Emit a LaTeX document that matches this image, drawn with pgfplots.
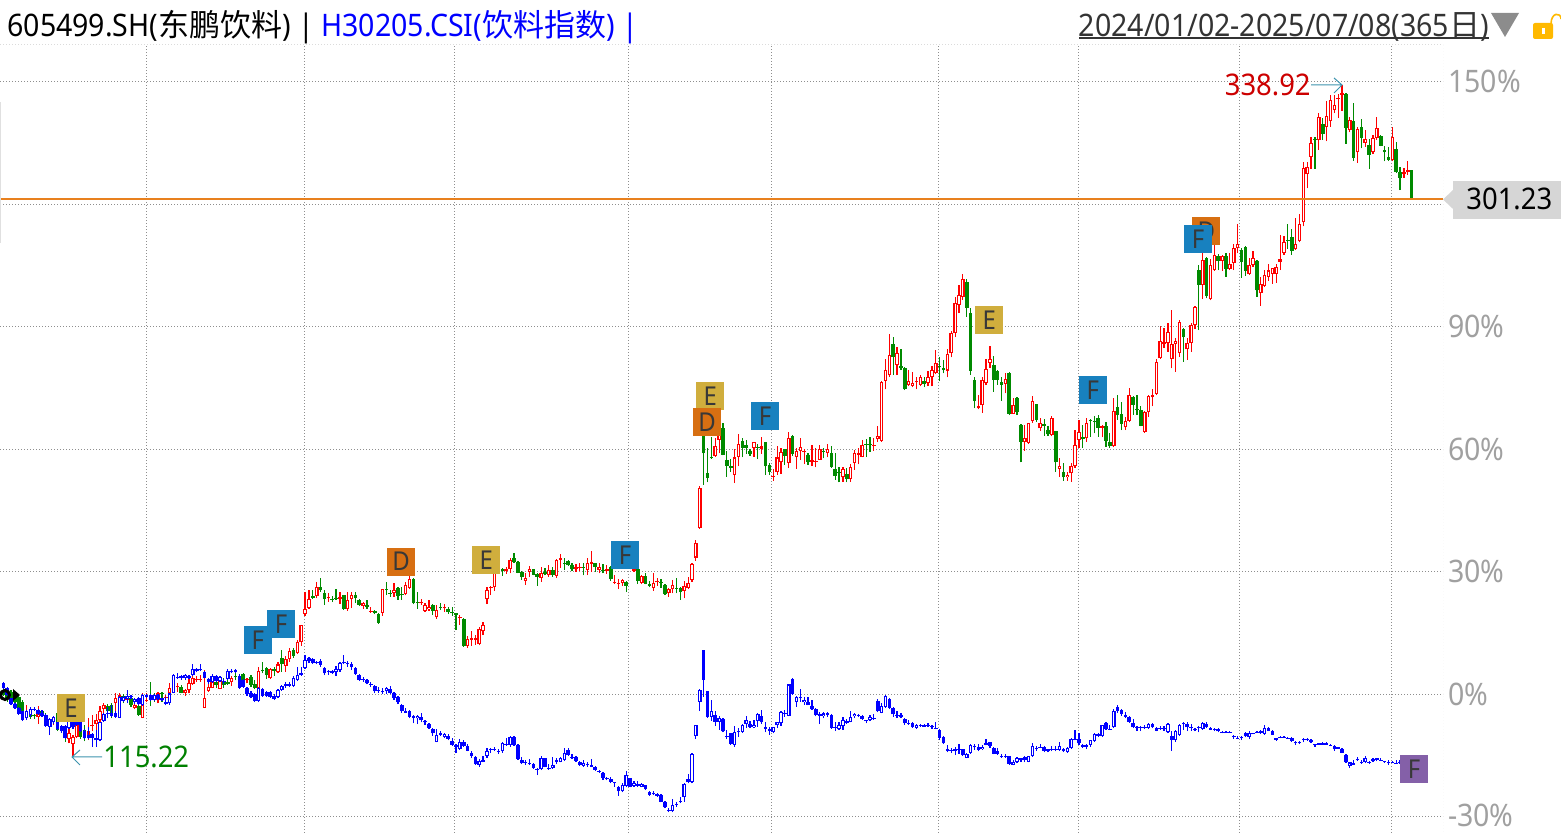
\documentclass[border=0pt]{standalone}
\usepackage{fontspec}
\usepackage{pgfplots}
\usepackage{pgfplotstable}
\pgfplotsset{compat=1.18}
\setmainfont{Noto Sans}[FakeStretch=0.92]
\newfontfamily\cjk{Noto Sans CJK SC}[FakeStretch=1.0]
\newcommand\zh[1]{{\cjk #1}}
\newcommand\bigtext{\fontsize{15.5pt}{18pt}\selectfont}
\newcommand\numtext{\fontsize{14.9pt}{18pt}\selectfont}
\definecolor{up}{HTML}{FF0000}
\definecolor{down}{HTML}{008A00}
\definecolor{idx}{HTML}{0000FF}
\definecolor{gridc}{HTML}{8E8E8E}
\definecolor{tickc}{HTML}{A0A0A0}
\definecolor{lastc}{HTML}{E8801E}
\definecolor{arrowc}{HTML}{3D93AD}
\definecolor{bE}{HTML}{D0AE3D}
\definecolor{bD}{HTML}{D76F12}
\definecolor{bF}{HTML}{1881BF}
\definecolor{bP}{HTML}{8460A8}

% columns: open close high low, in % against the first day
\pgfplotstableread{
o c h l
1.0 -0.2 1.5 -0.5
1.1 -1.0 1.5 -1.8
0.6 -1.2 1.0 -1.6
0.2 -1.8 0.6 -2.2
-0.7 -3.4 -0.2 -3.8
-2.0 -5.9 -1.5 -6.5
-5.5 -4.0 -2.6 -6.3
-3.8 -5.5 -3.0 -6.0
-5.1 -5.4 -4.8 -6.0
-5.6 -3.8 -2.9 -7.3
-4.2 -4.5 -3.8 -5.6
-5.0 -6.0 -4.5 -6.6
-7.9 -6.3 -5.8 -10.0
-6.8 -6.5 -5.8 -7.6
-4.7 -8.7 -4.2 -9.0
-8.6 -8.3 -7.5 -9.4
-7.9 -10.4 -7.5 -11.6
-10.9 -9.4 -7.8 -12.0
-12.2 -10.5 -10.0 -15.3
-10.4 -6.7 -6.3 -10.8
-8.7 -10.5 -6.8 -10.9
-8.7 -10.8 -7.5 -11.5
-10.5 -8.9 -5.9 -11.2
-7.8 -7.5 -5.1 -9.1
-7.3 -6.3 -4.8 -9.5
-6.3 -4.2 -2.8 -9.5
-3.6 -2.6 -2.2 -4.8
-2.8 -4.2 -2.4 -5.3
-2.6 -4.7 -2.2 -5.9
-2.2 -0.8 0.2 -4.8
-1.0 -0.2 0.4 -2.0
-0.4 -1.6 0.0 -2.2
-1.4 -0.4 0.4 -2.0
-1.0 -2.6 -0.2 -3.0
-3.3 -2.6 -1.8 -3.7
-2.8 -5.1 -0.6 -5.3
-5.7 -2.6 0.2 -5.9
-1.6 -1.3 0.2 -2.0
-0.2 -1.4 2.9 -2.9
-0.2 -1.4 0.2 -1.8
-1.4 0.2 0.6 -2.2
0.3 0.0 0.6 -1.8
-1.0 -0.7 -0.2 -2.2
0.2 1.5 2.7 -2.2
1.9 0.9 2.3 0.6
1.8 2.1 2.7 0.6
1.9 0.4 2.3 0.2
0.2 1.1 1.3 -0.3
1.1 2.7 3.9 0.2
2.4 4.1 5.1 2.3
3.4 3.7 4.6 3.1
3.4 3.7 4.7 3.1
-3.3 -1.0 6.0 -3.4
0.8 1.9 2.7 0.6
1.6 3.1 4.7 1.5
3.1 2.3 4.2 1.5
1.4 3.3 3.9 1.2
3.1 2.3 3.9 1.5
2.9 2.6 3.7 2.3
2.9 4.1 4.5 2.0
4.5 4.2 5.2 3.4
4.5 3.3 5.0 2.9
4.9 3.1 5.3 2.9
3.4 3.7 4.1 2.7
4.3 2.3 4.7 1.9
2.5 1.5 3.5 1.2
1.5 5.8 6.8 -0.7
5.9 5.6 7.8 5.1
6.4 4.7 6.8 3.7
3.9 6.1 6.4 3.7
6.1 5.8 6.8 4.5
5.4 7.3 8.0 5.1
8.8 7.3 10.9 5.5
7.0 8.6 9.4 5.5
8.6 10.7 11.3 8.0
10.9 9.5 11.3 9.0
10.0 12.9 13.3 9.9
12.9 17.0 17.0 11.9
19.7 20.9 25.1 19.2
21.1 23.3 25.6 20.9
24.0 23.7 25.6 23.4
24.1 26.2 27.6 23.5
26.3 25.6 28.5 25.1
24.9 23.3 25.6 21.9
23.5 23.8 24.7 22.7
23.4 23.1 24.0 22.6
23.6 23.3 25.7 23.1
23.4 23.8 25.1 22.1
24.2 20.9 24.4 20.7
20.9 23.0 25.0 20.5
23.3 24.3 25.0 21.1
24.3 23.5 25.1 22.3
23.1 21.9 23.3 21.7
21.7 22.3 22.7 20.9
21.9 21.4 23.0 20.9
20.2 20.5 21.5 20.0
20.4 19.8 20.6 19.6
19.7 17.5 19.9 17.3
20.0 25.7 25.9 19.2
25.8 25.5 27.4 24.3
24.9 24.6 25.6 23.9
24.9 25.5 27.2 23.9
26.0 24.1 26.2 23.1
24.5 24.2 26.4 23.1
24.5 26.7 27.6 24.2
26.1 28.2 29.6 25.7
28.2 22.3 28.4 22.0
22.6 22.3 25.1 20.9
22.3 22.6 23.3 21.9
20.4 21.9 22.3 20.2
20.8 21.5 23.0 20.5
21.9 20.4 22.1 19.4
18.9 20.7 21.9 18.5
21.5 21.2 22.3 20.7
21.2 21.5 22.1 20.2
20.9 20.2 21.5 19.7
20.1 19.8 21.3 19.2
19.8 19.5 20.0 15.8
18.7 19.0 19.4 17.0
18.5 11.8 18.7 11.7
11.9 13.5 14.4 11.4
13.4 13.7 15.4 11.9
13.4 13.7 14.5 12.1
12.3 15.9 16.4 12.0
15.4 17.0 17.6 14.5
23.3 25.5 26.2 22.1
26.0 26.3 26.5 24.3
26.2 29.6 30.0 25.4
30.9 30.0 31.2 29.6
30.7 30.3 30.9 29.0
30.3 30.6 31.3 29.5
30.8 32.9 33.5 29.6
33.5 32.4 34.5 32.1
32.4 29.8 32.7 29.6
30.0 28.7 30.2 28.0
27.7 28.5 29.6 26.8
30.0 30.6 31.4 28.8
30.6 29.3 30.8 29.1
29.4 28.8 29.6 26.6
28.6 29.7 31.3 27.6
30.0 29.5 30.9 29.1
29.1 30.4 31.7 28.8
30.4 29.3 31.3 28.8
29.0 32.9 33.1 28.6
33.0 33.3 34.3 30.9
32.2 31.9 33.3 30.4
32.6 31.7 32.8 31.5
31.7 30.6 32.1 30.1
30.8 31.1 31.9 30.0
31.0 31.3 32.1 30.3
31.3 31.0 32.1 29.1
30.4 32.1 33.5 29.2
32.0 32.3 35.1 30.0
32.1 31.3 32.2 30.0
30.5 31.2 32.1 29.6
30.4 30.1 31.9 29.6
30.1 30.6 31.7 29.5
31.3 28.2 31.5 27.7
27.3 27.6 29.2 27.0
27.0 27.3 28.2 25.8
27.2 28.0 28.2 26.5
27.6 26.6 27.8 25.1
30.8 32.1 32.5 30.6
30.3 30.6 31.0 30.0
30.7 27.8 30.9 27.0
27.3 29.0 29.2 27.0
29.0 27.1 29.8 26.9
26.9 26.6 27.8 26.2
26.1 27.3 29.6 25.3
27.4 27.7 28.4 26.6
27.5 27.2 28.2 26.1
26.8 24.6 27.0 24.3
24.9 25.8 26.1 23.9
25.7 26.8 28.0 24.7
26.1 25.8 28.6 24.7
26.1 25.1 26.3 23.1
25.4 26.5 27.8 23.5
26.1 27.3 28.8 25.7
28.0 31.9 32.1 27.6
33.5 37.0 37.8 32.7
40.8 50.5 50.9 40.5
63.9 59.0 64.2 51.3
54.1 53.0 60.3 51.9
58.1 57.8 63.1 57.6
58.4 60.7 62.7 58.2
62.3 63.4 65.6 59.0
65.2 58.7 66.4 58.5
57.3 56.0 59.6 53.3
55.8 55.5 57.6 54.5
53.8 58.0 60.0 51.7
58.2 61.2 63.8 55.8
62.0 60.4 62.7 58.0
61.1 60.4 62.3 58.9
59.5 58.9 60.0 58.4
60.4 61.7 61.9 58.2
60.6 60.3 61.3 57.6
60.2 60.7 63.1 58.9
61.7 55.8 61.9 53.7
56.2 54.5 56.6 53.7
53.1 53.4 55.2 52.3
54.5 58.0 60.8 53.7
56.8 59.3 60.3 54.0
60.0 58.4 60.2 56.2
56.7 62.7 64.3 55.4
63.3 58.9 63.5 58.4
58.2 59.5 60.3 55.2
59.7 60.5 62.7 57.4
59.3 59.6 60.0 56.4
58.6 56.9 59.0 56.2
57.0 57.3 61.1 55.9
56.9 57.2 60.4 55.6
57.5 60.0 61.0 57.4
59.6 59.3 60.3 57.8
59.2 60.0 61.3 58.0
59.0 55.7 60.8 55.5
55.1 53.5 59.0 52.5
54.4 54.1 55.6 51.9
53.1 55.1 55.6 52.1
54.0 52.8 55.4 51.9
52.8 55.6 56.3 52.0
56.7 59.0 59.8 55.0
58.7 59.2 60.3 56.3
58.2 61.0 62.3 58.0
61.3 61.0 62.5 58.1
61.3 61.0 63.0 59.4
60.8 61.1 62.7 59.6
62.5 63.2 65.7 61.8
62.1 76.6 76.8 61.9
76.8 79.4 82.0 74.7
78.1 83.0 88.3 77.8
85.8 82.6 87.6 78.2
80.7 83.5 85.0 78.2
80.3 80.0 84.6 79.4
79.9 74.7 80.1 74.5
75.8 76.7 79.4 75.5
75.6 76.2 79.0 75.2
76.4 76.7 77.6 74.7
75.8 77.6 78.2 75.4
76.7 76.0 77.6 75.2
76.3 77.6 79.3 75.4
77.6 79.4 80.3 75.4
78.6 81.1 84.3 78.5
80.5 80.2 82.5 76.7
79.9 79.4 81.9 78.6
79.3 83.3 84.6 77.6
83.7 88.4 88.9 82.5
88.6 95.8 97.2 87.4
95.4 97.7 100.2 93.3
97.4 101.6 102.9 96.6
100.9 94.7 101.6 92.5
93.3 79.3 94.5 78.3
77.0 71.9 77.6 70.0
70.0 70.5 73.3 69.8
70.8 76.9 77.8 69.0
76.3 79.6 82.1 75.7
81.2 82.1 85.3 80.0
80.7 77.1 82.9 74.1
79.2 77.0 79.4 75.8
76.6 75.8 77.8 71.9
76.1 77.2 78.6 73.7
78.7 68.7 78.9 68.4
68.7 70.8 72.5 68.7
72.5 69.2 72.7 68.4
65.9 61.9 66.1 56.8
61.9 62.7 66.0 59.7
61.5 66.4 66.5 61.3
66.9 71.8 73.1 66.5
71.0 67.2 71.2 66.8
65.1 66.4 67.6 64.6
66.2 65.6 67.4 63.3
64.8 63.7 65.6 63.3
63.4 67.6 68.2 63.2
64.4 56.8 64.6 54.5
55.3 55.9 57.8 53.3
54.4 53.1 56.6 52.3
53.1 53.7 54.4 52.3
54.1 55.9 56.6 52.1
55.8 61.0 64.7 55.5
62.4 64.2 67.2 60.3
62.9 62.6 66.0 60.4
62.7 66.4 67.6 61.8
67.2 66.9 67.4 63.1
67.0 66.7 68.2 63.9
67.6 65.3 68.4 63.1
65.3 65.6 66.0 62.9
65.7 62.1 66.8 60.6
61.8 60.7 63.9 60.4
60.7 69.3 72.5 60.5
70.4 68.4 73.3 67.2
68.7 66.3 71.7 64.7
65.4 66.9 68.0 64.7
67.0 73.2 74.9 66.8
72.7 70.9 73.1 68.5
69.9 69.6 73.2 68.4
69.6 65.7 70.5 65.6
64.2 69.2 69.3 64.0
69.2 73.0 73.3 68.0
72.7 73.2 74.7 70.5
73.6 81.3 82.1 73.3
82.3 86.5 90.2 82.2
85.9 86.2 89.6 84.9
86.1 88.7 90.9 83.9
82.2 85.8 94.1 79.8
85.9 86.5 87.2 79.0
83.7 91.1 91.7 82.7
89.4 87.4 89.6 81.5
84.5 86.0 87.2 81.9
86.0 90.4 90.9 83.9
90.4 94.8 95.1 89.5
103.9 100.3 105.1 89.2
100.3 106.4 108.4 96.8
106.8 97.5 107.0 97.0
96.7 105.1 106.5 96.5
103.9 107.5 110.4 103.7
107.3 106.1 107.8 103.9
106.2 107.3 107.6 103.7
107.3 104.2 108.0 102.3
104.2 105.5 108.0 103.9
105.7 109.2 110.4 103.9
109.3 110.2 115.3 108.0
108.8 106.0 109.2 102.0
109.5 103.7 109.7 102.5
102.9 105.1 106.8 102.7
105.2 106.8 108.5 104.6
106.1 98.9 106.3 97.4
98.2 100.6 102.3 95.2
100.0 102.7 103.9 99.7
102.3 103.8 105.4 101.3
103.0 104.3 104.5 100.6
102.9 104.6 105.5 100.8
106.0 106.5 112.5 103.9
108.2 110.7 112.2 107.7
111.3 111.0 115.2 109.1
111.9 108.6 113.9 107.7
109.0 110.2 116.6 108.8
111.1 115.3 117.6 110.7
115.6 128.8 130.3 114.6
127.4 129.2 130.3 123.9
131.7 135.1 136.4 128.7
136.1 135.8 136.6 128.7
135.7 141.3 142.3 133.3
139.6 137.2 141.1 135.8
139.0 141.6 145.2 135.4
140.3 145.6 146.8 139.0
143.1 144.3 146.8 142.3
145.7 146.0 147.0 141.1
146.9 147.2 149.2 142.9
147.0 138.8 147.2 134.8
138.3 140.6 141.3 137.6
140.4 131.4 144.8 130.7
132.7 138.4 139.0 130.2
138.9 136.2 140.8 133.7
135.1 136.0 138.2 134.1
134.6 132.2 135.9 128.7
132.7 136.2 137.0 132.3
136.3 138.6 141.3 135.8
136.7 134.4 136.9 134.2
133.3 132.7 134.3 130.5
131.6 130.9 134.1 130.6
130.9 136.4 139.0 130.6
133.6 127.9 135.2 127.7
127.9 126.5 129.2 123.5
127.4 127.9 128.8 126.5
127.8 128.4 130.6 127.2
128.4 121.3 128.5 121.2
}\stock

\pgfplotstableread{
o c h l
2.7 1.5 3.0 1.3
1.5 -0.2 1.7 -0.4
-1.0 -2.4 -0.8 -2.6
-2.4 -3.4 -2.2 -3.6
-3.4 -4.8 -3.2 -5.0
-4.2 -6.3 -4.0 -6.6
-5.9 -4.2 -3.8 -6.2
-5.1 -3.7 -3.0 -5.5
-3.5 -3.8 -3.2 -4.2
-3.8 -4.8 -3.6 -5.0
-4.5 -5.3 -3.8 -5.5
-5.1 -7.8 -4.9 -8.0
-7.9 -6.0 -5.8 -10.0
-6.9 -5.6 -5.2 -7.2
-6.7 -8.6 -6.4 -8.8
-7.8 -9.1 -7.5 -9.5
-7.8 -10.8 -7.5 -11.0
-8.2 -6.3 -6.0 -8.5
-6.7 -8.1 -6.4 -8.4
-6.3 -7.5 -6.0 -7.8
-6.7 -8.9 -6.4 -9.2
-8.9 -10.8 -8.6 -11.0
-10.0 -10.8 -8.1 -11.0
-9.7 -10.6 -9.4 -12.8
-11.3 -10.8 -8.7 -12.8
-11.2 -6.9 -6.7 -11.5
-6.5 -4.8 -4.6 -6.8
-4.5 -4.8 -3.0 -5.9
-4.7 -5.3 -2.6 -5.6
-4.5 -5.5 -4.2 -5.8
-5.7 -0.6 -0.4 -5.9
-1.6 -0.6 -0.3 -2.0
-1.1 -0.3 1.1 -2.2
-0.4 -0.7 -0.2 -1.2
-2.0 -1.2 -0.9 -2.3
-1.0 -2.4 -0.7 -2.7
-2.6 -0.2 0.0 -2.9
-0.2 -0.7 0.1 -0.9
-0.2 -1.4 0.1 -1.7
-1.4 -0.2 0.1 -1.7
-0.2 -1.2 0.1 -1.5
-1.0 -1.4 -0.8 -1.7
-1.9 -2.4 -0.6 -2.7
-2.2 0.2 0.4 -2.5
0.4 4.7 5.0 0.2
4.2 3.9 5.1 3.7
4.5 3.9 4.7 3.6
3.9 4.7 5.0 3.6
4.4 4.1 4.8 3.8
4.7 6.2 7.3 4.5
6.1 5.8 6.4 5.4
6.3 6.0 7.3 5.7
5.5 4.1 5.8 3.9
3.7 2.9 4.0 2.6
3.1 4.6 4.9 2.8
4.5 3.3 4.8 3.0
3.3 4.3 4.6 3.0
3.2 2.9 3.7 2.5
3.8 5.8 6.2 3.5
5.8 5.4 6.1 5.1
6.0 5.5 6.3 5.2
4.6 1.6 4.9 1.4
3.5 1.9 3.8 1.6
1.5 0.0 1.8 -0.3
0.4 -0.7 0.7 -1.0
0.1 -1.6 0.3 -1.9
-1.6 1.6 1.9 -1.9
1.2 -0.3 1.5 -0.6
0.6 -0.3 0.9 -0.6
0.6 -0.6 0.9 -0.9
-0.3 -1.1 0.0 -1.4
-0.7 1.1 1.4 -1.0
1.1 2.0 2.3 0.9
2.4 2.1 3.0 1.6
2.4 2.1 3.0 1.7
2.1 4.1 4.4 1.8
3.5 4.7 6.8 3.2
5.1 4.8 6.6 4.6
6.5 8.4 9.7 6.3
8.8 8.2 9.2 7.6
8.6 7.7 9.0 7.4
7.9 7.6 8.1 7.3
8.2 7.2 8.6 6.8
6.4 5.1 6.6 4.7
5.7 5.4 5.9 4.7
5.8 5.3 6.0 5.0
5.5 6.1 7.0 4.5
6.0 7.6 7.9 5.5
7.9 7.6 9.6 7.4
7.7 7.4 8.2 6.8
7.4 6.6 7.8 6.0
6.4 5.0 6.7 4.7
4.7 3.5 5.0 3.2
3.8 3.5 4.3 3.1
3.5 2.7 3.8 2.4
2.6 2.3 3.1 1.9
2.0 0.7 2.3 0.2
1.0 0.7 1.7 0.4
0.8 0.5 1.6 0.1
0.7 1.5 1.9 0.1
1.2 0.4 2.0 0.1
0.2 -0.8 0.5 -1.4
-0.6 -1.8 -0.3 -2.4
-2.7 -4.1 -2.4 -4.5
-4.2 -4.5 -3.4 -4.6
-4.2 -5.5 -3.9 -5.9
-5.7 -5.2 -5.0 -7.1
-5.9 -5.3 -5.1 -7.3
-5.6 -6.4 -4.7 -6.9
-6.6 -6.9 -6.3 -7.4
-7.3 -8.2 -7.0 -8.4
-8.5 -9.6 -8.2 -10.2
-11.6 -9.9 -8.6 -11.8
-9.6 -9.9 -8.9 -10.2
-10.5 -9.8 -9.5 -10.8
-10.1 -11.0 -9.8 -11.3
-11.5 -12.4 -10.8 -12.6
-12.5 -12.8 -12.2 -14.4
-13.4 -11.8 -11.0 -13.6
-11.7 -12.6 -11.3 -12.9
-12.7 -13.8 -12.2 -14.0
-14.4 -15.1 -13.8 -15.5
-15.4 -17.1 -15.1 -17.3
-17.2 -16.4 -15.9 -17.7
-16.2 -16.5 -15.0 -16.7
-15.0 -14.0 -13.2 -15.5
-13.3 -13.6 -13.1 -14.4
-13.3 -13.6 -13.0 -13.9
-13.8 -14.1 -13.5 -14.6
-14.0 -12.0 -11.8 -14.3
-12.1 -12.4 -10.8 -12.6
-12.4 -10.5 -10.3 -12.8
-10.5 -12.4 -10.3 -12.6
-12.4 -15.8 -12.2 -16.0
-16.2 -16.9 -15.4 -17.1
-16.6 -16.9 -16.1 -17.3
-16.8 -17.1 -15.9 -17.3
-17.1 -18.0 -16.9 -18.2
-18.2 -18.5 -18.0 -19.8
-18.4 -15.7 -15.1 -18.6
-15.7 -17.7 -15.5 -17.9
-18.0 -18.3 -17.1 -18.5
-18.0 -17.2 -15.4 -18.2
-16.2 -16.5 -15.7 -17.1
-16.5 -15.7 -15.3 -16.7
-16.1 -14.4 -13.2 -16.3
-13.6 -14.8 -13.2 -15.0
-15.3 -15.6 -14.7 -15.8
-15.4 -16.3 -15.2 -16.5
-16.5 -17.3 -16.3 -17.5
-17.5 -16.9 -16.2 -17.7
-17.1 -17.4 -16.7 -17.7
-17.4 -17.7 -15.8 -17.9
-17.7 -18.5 -17.5 -18.7
-18.7 -19.0 -18.5 -19.2
-19.3 -20.5 -19.1 -21.0
-20.5 -20.8 -20.2 -21.1
-20.7 -21.5 -20.3 -21.8
-21.5 -21.8 -21.4 -22.6
-22.8 -23.8 -22.5 -24.8
-23.8 -22.3 -21.8 -24.0
-22.4 -19.7 -18.8 -22.8
-20.6 -22.6 -20.4 -22.8
-22.4 -21.8 -21.3 -22.6
-22.0 -22.4 -21.3 -22.6
-22.6 -22.0 -21.8 -22.8
-22.3 -23.3 -22.1 -23.5
-24.0 -24.6 -23.8 -24.9
-24.2 -24.5 -23.7 -24.7
-24.5 -24.8 -24.1 -25.1
-24.7 -26.3 -24.5 -26.5
-26.4 -27.7 -26.2 -27.9
-28.3 -28.6 -27.9 -28.9
-28.6 -27.0 -25.7 -28.9
-26.8 -27.1 -26.5 -27.5
-26.2 -26.5 -25.1 -26.7
-25.1 -22.0 -21.8 -26.3
-20.7 -21.6 -19.5 -21.8
-21.5 -14.5 -14.3 -21.8
-10.1 -7.6 -7.5 -10.9
-1.8 1.1 1.3 -4.1
10.8 3.6 10.9 -0.6
0.8 -5.5 0.9 -5.7
-5.5 -4.1 -1.4 -6.5
-5.1 -6.7 -4.1 -7.7
-6.7 -5.9 -5.3 -8.7
-6.1 -9.1 -5.9 -9.3
-10.2 -10.5 -8.7 -11.0
-9.6 -12.1 -9.4 -12.3
-12.4 -9.3 -7.8 -12.8
-9.0 -9.3 -8.3 -10.4
-9.2 -7.5 -7.3 -9.4
-7.3 -6.4 -5.3 -8.3
-7.3 -7.9 -6.5 -8.3
-8.1 -7.4 -6.3 -8.3
-6.5 -4.9 -4.7 -7.9
-5.4 -6.9 -3.8 -7.3
-8.0 -8.5 -6.9 -9.3
-8.6 -8.9 -7.9 -9.9
-9.3 -8.1 -7.9 -9.6
-7.6 -6.9 -6.7 -8.3
-7.1 -4.4 -4.2 -7.7
-4.5 -4.8 -3.8 -5.5
-5.2 2.4 2.6 -5.4
3.7 0.1 3.9 -0.1
-1.8 -0.7 -0.3 -3.1
-0.7 -1.0 1.3 -1.8
-2.0 -1.4 -0.6 -2.5
-1.9 -2.5 -0.6 -2.7
-2.9 -3.6 -1.4 -3.8
-3.6 -5.1 -3.4 -5.4
-4.9 -5.2 -4.3 -7.3
-5.4 -4.7 -4.3 -5.9
-4.7 -5.0 -4.4 -5.5
-5.0 -8.2 -4.8 -8.4
-8.0 -8.3 -6.9 -9.0
-8.5 -7.5 -6.9 -8.7
-7.7 -6.3 -5.6 -8.7
-6.5 -7.0 -6.0 -7.2
-6.7 -5.6 -4.1 -6.9
-5.4 -4.8 -4.5 -5.9
-5.0 -5.3 -4.9 -5.6
-5.3 -6.0 -5.1 -6.2
-6.3 -6.6 -6.2 -7.1
-6.4 -5.6 -5.1 -6.6
-5.8 -6.1 -4.9 -6.2
-1.6 -4.2 -1.1 -4.4
-4.5 -2.9 -2.2 -4.7
-3.1 -0.4 -0.2 -3.3
-1.2 -3.4 -1.0 -3.6
-3.4 -4.9 -3.1 -5.5
-5.0 -5.3 -4.1 -5.7
-5.0 -5.6 -4.5 -5.9
-6.1 -7.1 -5.9 -7.5
-7.0 -7.3 -6.3 -7.4
-7.0 -8.1 -6.8 -8.2
-8.2 -7.4 -7.2 -8.4
-7.4 -7.8 -7.2 -7.9
-7.6 -7.9 -7.2 -8.0
-7.5 -7.8 -7.0 -8.0
-7.8 -8.1 -7.4 -8.4
-8.2 -8.5 -6.8 -8.6
-8.7 -10.6 -8.5 -11.2
-10.5 -12.0 -10.3 -12.2
-13.5 -13.8 -12.4 -14.2
-13.6 -13.9 -13.2 -14.4
-13.5 -13.8 -13.0 -14.9
-13.4 -13.7 -12.2 -14.5
-13.5 -14.9 -13.3 -15.1
-15.5 -14.5 -14.3 -15.7
-14.3 -12.4 -12.2 -14.5
-12.7 -13.0 -12.2 -13.6
-12.9 -13.6 -12.1 -14.0
-13.5 -12.9 -12.4 -13.7
-11.9 -12.3 -11.0 -12.5
-11.8 -12.7 -11.6 -13.2
-13.2 -14.5 -13.0 -14.7
-14.0 -14.6 -13.2 -14.8
-15.0 -15.3 -14.7 -15.6
-15.0 -15.3 -14.7 -15.6
-15.2 -17.1 -15.0 -17.3
-17.2 -16.6 -16.1 -17.4
-16.6 -15.7 -15.3 -16.9
-15.7 -16.0 -15.5 -16.5
-15.4 -16.2 -15.2 -16.7
-16.5 -15.2 -15.0 -16.7
-15.0 -12.7 -12.0 -15.3
-13.1 -13.4 -12.7 -13.8
-12.8 -13.1 -12.2 -13.2
-12.8 -13.9 -12.6 -14.2
-13.5 -13.8 -13.3 -14.2
-13.3 -13.6 -12.7 -14.0
-13.3 -13.6 -12.6 -14.0
-13.6 -12.6 -11.8 -13.8
-13.3 -14.0 -13.1 -14.2
-14.1 -13.2 -13.0 -14.3
-13.1 -11.0 -10.8 -13.3
-10.9 -11.2 -8.7 -11.3
-11.0 -12.0 -9.5 -12.4
-12.5 -12.8 -12.2 -13.2
-12.5 -12.8 -12.2 -13.4
-12.4 -11.3 -11.1 -12.8
-11.4 -9.7 -9.5 -11.6
-9.8 -10.1 -9.6 -10.5
-10.3 -7.6 -7.4 -10.5
-7.1 -8.5 -6.7 -8.7
-8.4 -8.7 -7.4 -8.8
-8.1 -4.1 -3.6 -8.3
-3.2 -4.0 -2.6 -4.5
-3.9 -4.8 -3.7 -5.3
-5.1 -5.5 -4.4 -5.9
-5.6 -6.8 -5.4 -7.0
-7.0 -8.1 -6.0 -8.3
-8.0 -8.3 -7.7 -9.0
-7.9 -8.2 -7.7 -9.0
-8.0 -8.3 -7.5 -8.5
-8.2 -7.3 -7.1 -8.4
-7.3 -8.1 -7.1 -8.3
-8.2 -8.9 -8.0 -9.1
-8.2 -8.5 -7.8 -8.8
-8.2 -8.5 -7.8 -8.9
-9.3 -7.3 -7.1 -9.5
-10.1 -11.2 -9.1 -13.8
-11.2 -9.0 -8.8 -11.6
-10.0 -7.4 -7.2 -10.2
-7.0 -7.3 -6.9 -8.7
-7.3 -8.1 -6.9 -9.0
-8.0 -8.3 -7.3 -8.9
-8.5 -8.8 -8.3 -9.1
-7.9 -8.2 -7.7 -9.3
-8.5 -7.0 -6.7 -8.7
-7.3 -8.1 -6.9 -8.3
-8.3 -8.7 -8.1 -8.8
-8.5 -8.8 -8.3 -9.1
-8.5 -9.1 -8.3 -9.3
-9.2 -9.5 -9.1 -9.6
-9.2 -9.5 -8.9 -9.5
-9.2 -9.5 -8.9 -9.5
-10.2 -10.5 -9.9 -10.9
-10.6 -10.9 -10.3 -11.0
-10.5 -10.8 -10.3 -11.2
-9.5 -10.3 -9.3 -10.5
-10.4 -9.5 -9.0 -11.0
-9.5 -9.8 -9.4 -9.8
-9.2 -9.5 -9.0 -9.5
-9.0 -9.6 -8.8 -9.7
-9.7 -8.3 -7.4 -9.9
-8.3 -8.9 -8.1 -9.0
-9.0 -9.9 -8.8 -10.0
-10.8 -11.1 -10.6 -11.4
-10.5 -10.8 -10.2 -10.8
-10.4 -10.7 -10.2 -10.7
-10.6 -10.9 -10.5 -10.9
-10.6 -11.5 -10.4 -11.6
-11.7 -12.0 -11.4 -12.3
-11.7 -12.0 -11.5 -12.2
-10.9 -11.2 -10.8 -11.8
-10.9 -11.2 -10.6 -11.4
-11.1 -11.8 -10.9 -11.9
-12.2 -12.5 -12.1 -12.8
-12.0 -12.3 -11.9 -12.4
-12.0 -12.3 -11.6 -12.4
-12.0 -12.3 -11.6 -12.4
-12.4 -12.7 -12.2 -12.7
-12.7 -13.5 -12.5 -13.8
-13.0 -13.3 -12.8 -13.3
-13.4 -14.3 -13.2 -14.4
-14.9 -16.7 -14.7 -16.8
-17.5 -16.7 -16.5 -18.0
-16.9 -17.2 -16.2 -17.2
-15.8 -16.2 -15.3 -16.3
-16.5 -16.8 -16.1 -17.0
-16.7 -15.7 -15.2 -16.9
-16.5 -16.8 -16.4 -17.0
-16.3 -15.8 -15.5 -16.5
-15.7 -16.0 -15.6 -16.4
-16.0 -16.2 -15.6 -16.3
-16.4 -16.7 -16.3 -16.8
-16.6 -16.9 -16.2 -17.3
-16.5 -16.7 -16.4 -16.8
-16.8 -17.0 -16.2 -17.0
-16.5 -16.7 -16.2 -17.0
-16.8 -17.0 -16.6 -17.1
-17.0 -17.2 -16.8 -17.3
-17.0 -17.2 -16.8 -17.3
}\idxdata

\pgfplotsset{
  bars/.style n args={2}{draw=none, mark=none, forget plot,
    error bars/y dir=plus, error bars/y explicit, error bars/error mark=none,
    error bars/error bar style={draw=#1, line width=#2, line cap=butt, solid}},
  badge/.style n args={2}{draw=none, mark=none, forget plot, point meta=y,
    nodes near coords={#1}, nodes near coords align={center},
    every node near coord/.style={anchor=center, fill=#2, text=black!78,
      minimum size=14pt, inner sep=0pt, font=\fontsize{13pt}{14pt}\selectfont}},
}

\begin{document}
\begin{tikzpicture}
\useasboundingbox (0,0) rectangle (780.5pt,416.5pt);
\begin{axis}[
    at={(0pt,0pt)}, anchor=south west,
    scale only axis, width=721.5pt, height=394pt,
    xmin=-0.853, xmax=372.1, ymin=-33.97, ymax=159.03,
    axis line style={draw=none}, major tick length=0pt,
    xtick={36.9,77.8,116.7,161.7,198.6,241.8,277.8,319.6,358.7},
    xticklabels={},
    ytick={-30,0,30,60,90,120,150},
    yticklabels={\raisebox{1.5pt}{-30\%},0\%,30\%,60\%,90\%,,150\%},
    yticklabel pos=right,
    yticklabel style={anchor=west, text=tickc, font=\bigtext, xshift=-1pt},
    grid=major,
    major grid style={draw=gridc, line width=0.5pt, dash pattern=on 0.5pt off 1pt},
  ]
  % stock: wicks, then filled down days, then hollow up days
  \addplot[bars={up}{0.6pt}, restrict expr to domain={\thisrow{c}-\thisrow{o}}{0:1000}]
    table[x expr=\coordindex, y=l, y error plus expr=\thisrow{h}-\thisrow{l}] {\stock};
  \addplot[bars={down}{0.6pt}, restrict expr to domain={\thisrow{o}-\thisrow{c}}{0:1000}]
    table[x expr=\coordindex, y=l, y error plus expr=\thisrow{h}-\thisrow{l}] {\stock};
  \addplot[bars={down}{1.8pt}, restrict expr to domain={\thisrow{o}-\thisrow{c}}{0:1000}]
    table[x expr=\coordindex, y=c, y error plus expr=\thisrow{o}-\thisrow{c}] {\stock};
  \addplot[bars={up}{1.8pt}, restrict expr to domain={\thisrow{c}-\thisrow{o}}{0:1000}]
    table[x expr=\coordindex, y=o, y error plus expr=\thisrow{c}-\thisrow{o}] {\stock};
  \addplot[bars={white}{0.6pt}, restrict expr to domain={\thisrow{c}-\thisrow{o}}{0.6:1000}]
    table[x expr=\coordindex, y expr=\thisrow{o}+0.25, y error plus expr=\thisrow{c}-\thisrow{o}-0.5] {\stock};
  % index
  \addplot[bars={idx}{0.6pt}]
    table[x expr=\coordindex, y=l, y error plus expr=\thisrow{h}-\thisrow{l}] {\idxdata};
  \addplot[bars={idx}{1.8pt}, restrict expr to domain={\thisrow{o}-\thisrow{c}}{0:1000}]
    table[x expr=\coordindex, y=c, y error plus expr=\thisrow{o}-\thisrow{c}] {\idxdata};
  \addplot[bars={idx}{1.8pt}, restrict expr to domain={\thisrow{c}-\thisrow{o}}{0:1000}]
    table[x expr=\coordindex, y=o, y error plus expr=\thisrow{c}-\thisrow{o}] {\idxdata};
  \addplot[bars={white}{0.6pt}, restrict expr to domain={\thisrow{c}-\thisrow{o}}{0.6:1000}]
    table[x expr=\coordindex, y expr=\thisrow{o}+0.25, y error plus expr=\thisrow{c}-\thisrow{o}-0.5] {\idxdata};
  % last price line
  \addplot[lastc, line width=0.55pt, forget plot] coordinates {(-0.853,121.3) (372.1,121.3)};
  % event badges
  \addplot[badge={E}{bE}] coordinates {(17.5,-3.3) (124.8,32.9) (182.7,73.0) (254.8,91.7)};
  \addplot[badge={D}{bD}] coordinates {(102.8,32.5) (181.9,66.7) (310.9,113.5)};
  \addplot[badge={F}{bF}] coordinates {(65.8,13.3) (71.8,17.2) (160.7,34.1) (196.9,68.2) (281.6,74.5) (308.8,111.5)};
  \addplot[badge={F}{bP}] coordinates {(364.6,-18.3)};
  \draw[black!14, line width=0.5pt, dash pattern=on 0.5pt off 1pt]
    (rel axis cs:0,1) -- (rel axis cs:1,1) -- (rel axis cs:1,0);
\end{axis}

% everything below is in screen pixels of the reference
\begin{scope}[x=0.5pt, y=-0.5pt, shift={(0pt,416.5pt)}]
  \node[anchor=base west, inner sep=0pt, font=\bigtext] at (7,37)
    {605499.SH(\zh{东鹏饮料}) | {\color{idx}H30205.CSI(\zh{饮料指数}) |}};
  \node[anchor=base east, inner sep=0pt, font=\bigtext, text=black!80] at (1489,37)
    {2024/01/02-2025/07/08(365\zh{日})};
  \draw[black!80, line width=1pt] (1079,38.5) -- (1489,38.5);
  \fill[black!45] (1491,13) -- (1519,13) -- (1505,37) -- cycle;
  \fill[orange!55!yellow, rounded corners=1pt] (1533,23) rectangle (1553,39);
  \draw[orange!55!yellow, line width=0.8pt] (1551,24) .. controls (1551,12) and (1561,12) .. (1561,19);
  \fill[white] (1541.5,28) rectangle (1544.5,34);
  \fill[black!12] (0,102) rectangle (1,243);
  % marker at the start
  \draw[black, line width=1.5pt] (5,695) circle (4.5);
  \fill[black] (13,689) -- (20,695) -- (13,701) -- cycle;
  % price extremes
  \node[anchor=base east, inner sep=0pt, font=\numtext, text=red!80!black] at (1311,96) {338.92};
  \draw[arrowc, line width=0.5pt] (1311,85) -- (1342,85) (1334,78) -- (1342,85) -- (1334,93);
  \node[anchor=base west, inner sep=0pt, font=\numtext, text=green!50!black] at (103,768) {115.22};
  \draw[arrowc, line width=0.5pt] (102,757) -- (72,757) (80,750) -- (72,757) -- (80,765);
  % last price tag
  \fill[black!16] (1453,181) rectangle (1561,219);
  \fill[black!16] (1443,199.5) -- (1453,190) -- (1453,209) -- cycle;
  \node[anchor=base west, inner sep=0pt, font=\numtext] at (1466,210) {301.23};
\end{scope}
\end{tikzpicture}
\end{document}
